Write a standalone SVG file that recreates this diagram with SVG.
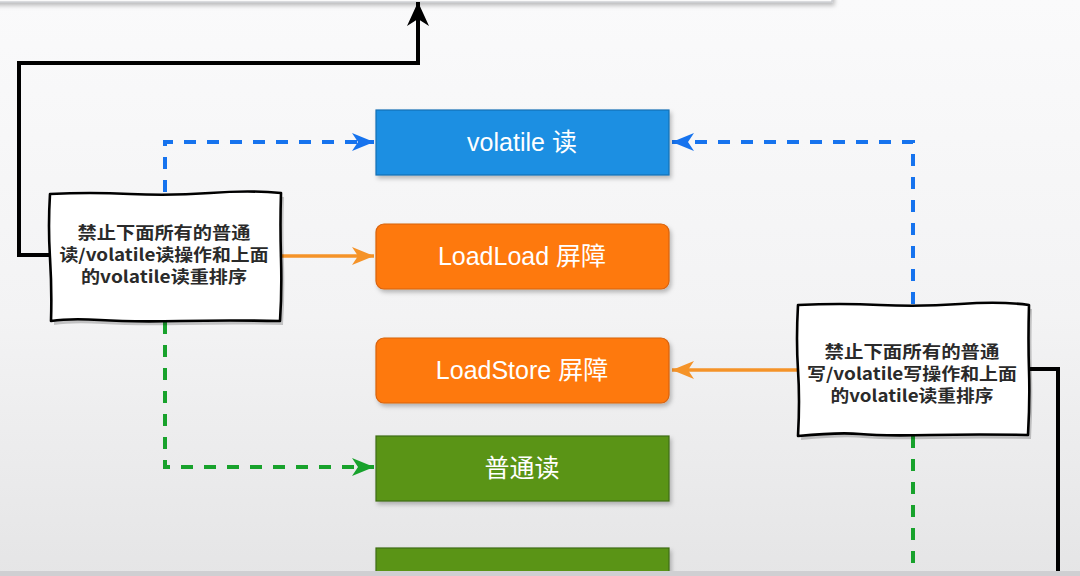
<svg xmlns="http://www.w3.org/2000/svg" width="1080" height="576" viewBox="0 0 1080 576">
<defs>
  <linearGradient id="bg" x1="0" y1="0" x2="0" y2="1">
    <stop offset="0" stop-color="#fafafb"/>
    <stop offset="0.55" stop-color="#f3f3f4"/>
    <stop offset="1" stop-color="#e5e5e6"/>
  </linearGradient>
  <filter id="sh" x="-10%" y="-20%" width="130%" height="150%">
    <feDropShadow dx="2" dy="3" stdDeviation="2" flood-color="#000" flood-opacity="0.25"/>
  </filter>
  <marker id="mBlue" markerUnits="userSpaceOnUse" markerWidth="24" markerHeight="20" refX="22" refY="10" orient="auto" viewBox="0 0 24 20">
    <path d="M0,1 L22,10 L0,19 L6,10 Z" fill="#1673ee"/>
  </marker>
  <marker id="mGreen" markerUnits="userSpaceOnUse" markerWidth="24" markerHeight="20" refX="22" refY="10" orient="auto" viewBox="0 0 24 20">
    <path d="M0,1 L22,10 L0,19 L6,10 Z" fill="#18a22c"/>
  </marker>
  <marker id="mOrange" markerUnits="userSpaceOnUse" markerWidth="24" markerHeight="20" refX="22" refY="10" orient="auto" viewBox="0 0 24 20">
    <path d="M0,1 L22,10 L0,19 L6,10 Z" fill="#f59328"/>
  </marker>
  <marker id="mBlack" markerUnits="userSpaceOnUse" markerWidth="26" markerHeight="24" refX="24" refY="12" orient="auto" viewBox="0 0 26 24">
    <path d="M0,1 L24,12 L0,23 L7,12 Z" fill="#000"/>
  </marker>
  <style>
    .box { stroke-width: 1.2; filter: url(#sh); }
    .blue { fill: #1a8fe2; stroke: #1570b5; }
    .orange { fill: #fe790b; stroke: #d8620a; }
    .green { fill: #5a9417; stroke: #3e6c0f; }
    .lbl { font-family: "Liberation Sans", "Noto Sans CJK SC", sans-serif; font-size: 25px; fill: #ffffff; text-anchor: middle; }
    .note { fill: #ffffff; stroke: #000; stroke-width: 2.6; stroke-linejoin: round; }
    .noteSh { fill: #000; opacity: 0.2; }
    .nt { font-family: "Noto Sans CJK SC", "Noto Sans", sans-serif; font-size: 16.5px; font-weight: bold; fill: #2a2a2a; text-anchor: middle; }
    .dashB { fill: none; stroke: #1673ee; stroke-width: 4; stroke-dasharray: 12 11; }
    .dashG { fill: none; stroke: #18a22c; stroke-width: 4; stroke-dasharray: 12 11; }
    .solO { fill: none; stroke: #f59328; stroke-width: 3.5; }
    .solK { fill: none; stroke: #000; stroke-width: 4; }
  </style>
</defs>

<rect x="0" y="0" width="1080" height="576" fill="url(#bg)"/>

<!-- top (partially visible) node -->
<g id="node-top">
  <rect x="-10" y="-30" width="842" height="32" fill="#fafafa" stroke="#c5c6cc" stroke-width="1.2" filter="url(#sh)"/>
</g>

<g id="connectors">
  <path class="solK" d="M50,255 H19 V63 H418 V2" marker-end="url(#mBlack)"/>
  <path class="dashB" d="M165,192 V142 H374" marker-end="url(#mBlue)"/>
  <path class="dashG" d="M165,322 V467 H374" marker-end="url(#mGreen)"/>
  <path class="solO" d="M281,256 H374" marker-end="url(#mOrange)"/>
  <path class="dashB" d="M913,304 V142 H672" marker-end="url(#mBlue)"/>
  <path class="solO" d="M798,370 H672" marker-end="url(#mOrange)"/>
  <path class="solK" d="M1028,369 H1058 V590"/>
  <path class="dashG" d="M913,436 V590"/>
</g>

<g id="node-volatile-read">
  <rect class="box blue" x="376" y="110" width="293" height="65"/>
  <text class="lbl" x="522" y="151">volatile 读</text>
</g>

<g id="node-loadload">
  <rect class="box orange" x="376" y="224" width="293" height="65" rx="8"/>
  <text class="lbl" x="522" y="265">LoadLoad 屏障</text>
</g>

<g id="node-loadstore">
  <rect class="box orange" x="376" y="338" width="293" height="65" rx="8"/>
  <text class="lbl" x="522" y="379">LoadStore 屏障</text>
</g>

<g id="node-normal-read">
  <rect class="box green" x="376" y="436" width="293" height="65"/>
  <text class="lbl" x="522" y="477">普通读</text>
</g>

<g id="node-normal-next">
  <rect class="box green" x="376" y="548" width="293" height="65"/>
</g>

<g id="note-left">
  <path class="noteSh" transform="translate(3,4)" d="M50,194 Q90,192 130,194 T210,193 T281,193 Q280,225 281,258 T280,321 Q230,320 180,321 T100,320 T51,321 Q52,290 50,258 T50,194 Z"/>
  <path class="note" d="M50,194 Q90,192 130,194 T210,193 T281,193 Q280,225 281,258 T280,321 Q230,320 180,321 T100,320 T51,321 Q52,290 50,258 T50,194 Z"/>
  <text class="nt" x="164" y="239" textLength="173" lengthAdjust="spacingAndGlyphs">禁止下面所有的普通</text>
  <text class="nt" x="164" y="261" textLength="209" lengthAdjust="spacingAndGlyphs">读/volatile读操作和上面</text>
  <text class="nt" x="164" y="283" textLength="166" lengthAdjust="spacingAndGlyphs">的volatile读重排序</text>
</g>

<g id="note-right">
  <path class="noteSh" transform="translate(3,4)" d="M798,305 Q840,303 880,305 T960,304 T1029,305 Q1028,340 1029,370 T1028,435 Q980,434 930,435 T860,434 T798,436 Q800,400 798,370 T798,305 Z"/>
  <path class="note" d="M798,305 Q840,303 880,305 T960,304 T1029,305 Q1028,340 1029,370 T1028,435 Q980,434 930,435 T860,434 T798,436 Q800,400 798,370 T798,305 Z"/>
  <text class="nt" x="912" y="358" textLength="175" lengthAdjust="spacingAndGlyphs">禁止下面所有的普通</text>
  <text class="nt" x="912" y="380" textLength="210" lengthAdjust="spacingAndGlyphs">写/volatile写操作和上面</text>
  <text class="nt" x="912" y="402" textLength="163" lengthAdjust="spacingAndGlyphs">的volatile读重排序</text>
</g>

<rect x="0" y="571" width="1080" height="5" fill="#cfcfd2"/>
</svg>
